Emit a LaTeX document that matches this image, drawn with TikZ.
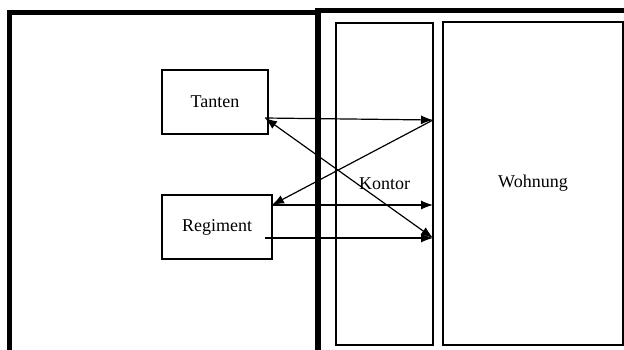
\documentclass[tikz,border=0pt]{standalone}
\usepackage{fontspec}
\setmainfont{Liberation Serif}
\usetikzlibrary{arrows.meta}

\tikzset{
  room/.style={draw, line width=1.4pt, inner sep=0pt},
  place/.style={draw, line width=1.4pt, inner sep=0pt, font=\fontsize{18}{20}\selectfont},
  head/.tip={Latex[length=12pt,width=9pt]},
  link/.style={line width=1.2pt, -head}
}

\begin{document}
\begin{tikzpicture}[x=1pt,y=-1pt]
\useasboundingbox (0,0) rectangle (624,349);
\clip (0,0) rectangle (624,349);
\fill[white] (0,0) rectangle (624,349);
% outer frames
\draw[line width=5pt] (9,360) -- (9,12) -- (318,12) -- (318,360);
\draw[line width=5pt] (317,360) -- (317,10) -- (640,10);
% rooms
\node[room, minimum width=97pt, minimum height=322pt, font=\fontsize{18}{20}\selectfont] (kontor) at (384.5,184) {Kontor};
\node[room, minimum width=180pt, minimum height=323pt, font=\fontsize{18}{20}\selectfont] (wohnung) at (533,183.5) {Wohnung};
% people
\node[place, minimum width=106pt, minimum height=64pt] (tanten) at (215,102) {Tanten};
\node[place, minimum width=110pt, minimum height=64pt] (regiment) at (217,227) {Regiment};
% arrow ends
\coordinate (t1) at (265,118);
\coordinate (r1) at (272,205);
\coordinate (r2) at (265,238);
\coordinate (k1) at (433,120);
\coordinate (k2) at (433,205);
\coordinate (k3) at (433,238);
% arrows
\draw[link] (t1) -- (k1);
\draw[link] (k1) -- (r1);
\draw[link] (r1) -- (k2);
\draw[link] (r2) -- (k3);
\draw[link, head-head] (t1) -- (k3);
\end{tikzpicture}
\end{document}
